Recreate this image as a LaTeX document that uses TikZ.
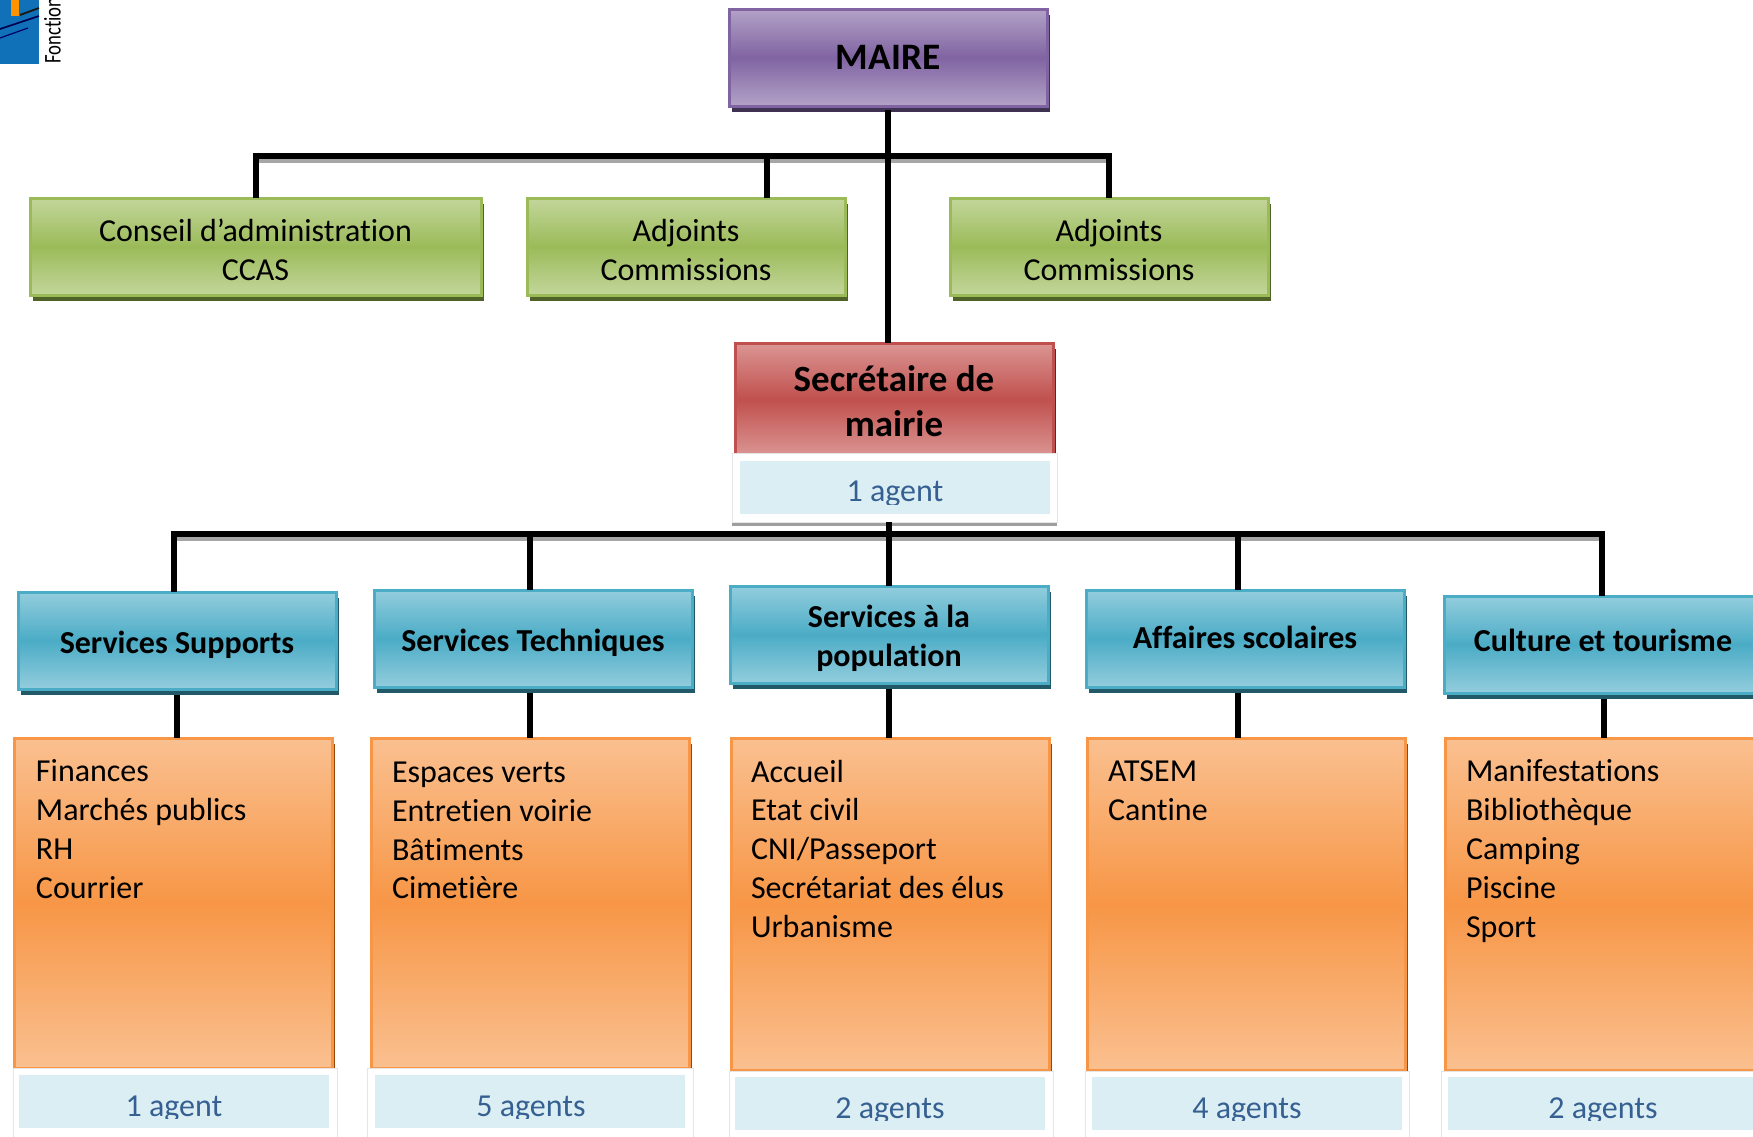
\documentclass[tikz,border=0pt]{standalone}
\usepackage{fontspec}
\setmainfont[Ligatures=NoCommon]{Carlito}
\usetikzlibrary{shadows,calc}
\definecolor{pT}{HTML}{B3A2C7}\definecolor{pM}{HTML}{8064A2}\definecolor{pS}{HTML}{3F3151}
\definecolor{gT}{HTML}{C3D69B}\definecolor{gM}{HTML}{9BBB59}\definecolor{gS}{HTML}{4F6228}
\definecolor{rT}{HTML}{DB9694}\definecolor{rM}{HTML}{C0504D}\definecolor{rS}{HTML}{632523}
\definecolor{bT}{HTML}{93CDDD}\definecolor{bM}{HTML}{4BACC6}\definecolor{bS}{HTML}{215968}
\definecolor{oT}{HTML}{FAC090}\definecolor{oM}{HTML}{F79646}\definecolor{oS}{HTML}{974806}
\definecolor{lblue}{HTML}{DBEEF4}\definecolor{ltext}{HTML}{366092}\definecolor{logoblue}{HTML}{1070B8}
\newcommand{\fs}[2]{\fontsize{#1}{#2}\selectfont}
% two centred lines whose last baseline lies #1 below the centre of the node
\newcommand{\twolines}[3]{\raisebox{-#1}[0pt][0pt]{\begin{tabular}[b]{@{}c@{}}#2\\#3\end{tabular}}}
\tikzset{
  x=0.75pt,y=-0.75pt,
  panel/.style={anchor=north west,inner sep=0pt,outer sep=0pt,line width=2.25pt,align=center,text=black,
    minimum width=238.5pt,minimum height=72.75pt},
  shade3/.style n args={3}{top color=#1,bottom color=#1,middle color=#2,draw=#2,
    drop shadow={shadow xshift=2.5pt,shadow yshift=-4.2pt,fill=#3,opacity=1}},
  dn/.style={execute at begin node={\rule{0pt}{\dimexpr12pt+2\dimexpr#1pt\relax\relax}},
             execute at end node={\rule[-12pt]{0pt}{12pt}}},
  purplebox/.style={panel,shade3={pT}{pM}{pS},font=\bfseries\fs{28}{32},dn=8.7},
  greenbox/.style={panel,shade3={gT}{gM}{gS},font=\fs{24}{29}},
  redbox/.style={panel,shade3={rT}{rM}{rS},font=\bfseries\fs{27.75}{33.75}},
  bluebox/.style={panel,shade3={bT}{bM}{bS},font=\bfseries\fs{24}{29}},
  orangebox/.style={panel,shade3={oT}{oM}{oS}},
  list/.style={anchor=north west,inner sep=0pt,outer sep=0pt,align=left,font=\fs{24}{29.1}},
  frame/.style={anchor=north west,inner sep=0pt,outer sep=0pt,fill=white,draw=black!10,line width=0.5pt},
  lbl/.style={anchor=north west,inner sep=0pt,outer sep=0pt,fill=lblue,minimum width=232.5pt,minimum height=39.5pt},
  lbltext/.style={anchor=base,inner sep=0pt,text=ltext,font=\fs{24}{29}},
  wire/.style={line width=4.2pt,draw=black},
  wireshade/.style={line width=3pt,draw=black!35},
}
\newcommand{\agentlabel}[6]{% name, left, top, text, center x, baseline offset
  \node[lbl] (#1) at (#2,#3) {};
  \begin{scope}
    \clip (#2,#3) rectangle ($(#2,#3)+(310,43)$);
    \node[lbltext] (#1t) at ($(#5,#3)+(0,#6)$) {#4};
  \end{scope}
}
\begin{document}
\begin{tikzpicture}
\useasboundingbox (0,0) rectangle (1753,1136);
\clip (0,0) rectangle (1753,1136);

% logo
\fill[logoblue] (0,0) rectangle (39,64);
\fill[orange!85!yellow] (11,0) rectangle (19,16);
\draw[black!90,line width=1.4pt] (20,15) -- (39,8);
\draw[blue!30!black,line width=1.2pt] (0,29) -- (39,16);
\draw[blue!40!black,line width=0.9pt] (0,38) -- (28,28);
\node[anchor=west,rotate=90,xscale=0.78,inner sep=0pt,font=\fs{18}{20}] (logo) at (52.5,64) {Fonctions};

% boxes
\node[purplebox] (maire) at (729,9) {MAIRE};
\node[greenbox,minimum width=338.25pt] (g1) at (30,198) {\twolines{25.2pt}{Conseil d’administration}{CCAS}};
\node[greenbox] (g2) at (527,198) {\twolines{25.2pt}{Adjoints}{Commissions}};
\node[greenbox] (g3) at (950,198) {\twolines{25.2pt}{Adjoints}{Commissions}};
\node[redbox,minimum height=84.75pt] (sec) at (735,343) {\twolines{27.4pt}{Secrétaire de}{mairie}};

\node[frame,minimum width=243.75pt,minimum height=51.75pt,drop shadow={shadow xshift=0pt,shadow yshift=-3pt,fill=black!38,opacity=1}] (f0) at (732,453) {};
\agentlabel{a0}{740}{461}{1 agent}{895}{40}

\node[bluebox,dn=9.6] (b1) at (18,592) {Services Supports};
\node[bluebox,dn=10.1] (b2) at (374,590) {Services Techniques};
\node[bluebox] (b3) at (730,586) {\twolines{23.7pt}{Services à la}{population}};
\node[bluebox,dn=7.4] (b4) at (1086,590) {Affaires scolaires};
\node[bluebox,dn=5.5] (b5) at (1444,596) {Culture et tourisme};

\node[orangebox,minimum height=247.5pt] (o1) at (14,738) {};
\node[orangebox,minimum height=247.5pt] (o2) at (371,738) {};
\node[orangebox,minimum height=249.5pt] (o3) at (731,738) {};
\node[orangebox,minimum height=249.5pt] (o4) at (1087,738) {};
\node[orangebox,minimum height=249.5pt] (o5) at (1445,738) {};

\node[list] (t1) at (36,759.8) {Finances\\Marchés publics\\RH\\Courrier};
\node[list] (t2) at (392,762) {Espaces verts\\Entretien voirie\\Bâtiments\\Cimetière};
\node[list] (t3) at (751,759.8) {Accueil\\Etat civil\\CNI/Passeport\\Secrétariat des élus\\Urbanisme};
\node[list] (t4) at (1108,761) {ATSEM\\Cantine};
\node[list] (t5) at (1466,759.8) {Manifestations\\Bibliothèque\\Camping\\Piscine\\Sport};

% agent labels
\node[frame,minimum width=243pt,minimum height=60pt] (f1) at (13,1068) {};
\node[frame,minimum width=245pt,minimum height=60pt] (f2) at (367,1068) {};
\node[frame,minimum width=243pt,minimum height=60pt] (f3) at (729,1071) {};
\node[frame,minimum width=243pt,minimum height=60pt] (f4) at (1085,1071) {};
\node[frame,minimum width=243pt,minimum height=60pt] (f5) at (1441,1071) {};
\agentlabel{a1}{19}{1075}{1 agent}{174}{41}
\agentlabel{a2}{375}{1075}{5 agents}{531}{41}
\agentlabel{a3}{735}{1077}{2 agents}{890}{41}
\agentlabel{a4}{1092}{1077}{4 agents}{1247}{41}
\agentlabel{a5}{1448}{1077}{2 agents}{1603}{41}

% junctions
\coordinate (top) at (888,156);
\coordinate (tl) at (256,156);
\coordinate (tm) at (767,156);
\coordinate (tr) at (1109,156);
\coordinate (bus) at (889,534);
\coordinate (d1) at (174,534);
\coordinate (d2) at (530,534);
\coordinate (d4) at (1238,534);
\coordinate (d5) at (1602,534);
\coordinate (e1) at (177,700);
\coordinate (e2) at (530,700);
\coordinate (e3) at (889,700);
\coordinate (e4) at (1238,700);
\coordinate (e5) at (1604,700);

% connectors
\draw[wireshade] ($(tl)+(0,5)$) -- ($(tr)+(0,5)$);
\draw[wireshade] ($(d1)+(0,5)$) -- ($(d5)+(0,5)$);
\draw[wire] ($(top |- maire.south)+(0,4)$) -- (top |- sec.north);
\draw[wire,line cap=rect] (tl) -- (tr);
\draw[wire] (tl) -- (tl |- g1.north);
\draw[wire] (tm) -- (tm |- g2.north);
\draw[wire] (tr) -- (tr |- g3.north);
\draw[wire] (bus |- f0.south) -- (bus |- b3.north);
\draw[wire,line cap=rect] (d1) -- (d5);
\draw[wire] (d1) -- (d1 |- b1.north);
\draw[wire] (d2) -- (d2 |- b2.north);
\draw[wire] (d4) -- (d4 |- b4.north);
\draw[wire] (d5) -- (d5 |- b5.north);
\draw[wire] ($(e1 |- b1.south)+(0,6)$) -- (e1 |- o1.north);
\draw[wire] ($(e2 |- b2.south)+(0,6)$) -- (e2 |- o2.north);
\draw[wire] ($(e3 |- b3.south)+(0,6)$) -- (e3 |- o3.north);
\draw[wire] ($(e4 |- b4.south)+(0,6)$) -- (e4 |- o4.north);
\draw[wire] ($(e5 |- b5.south)+(0,6)$) -- (e5 |- o5.north);
\end{tikzpicture}
\end{document}
